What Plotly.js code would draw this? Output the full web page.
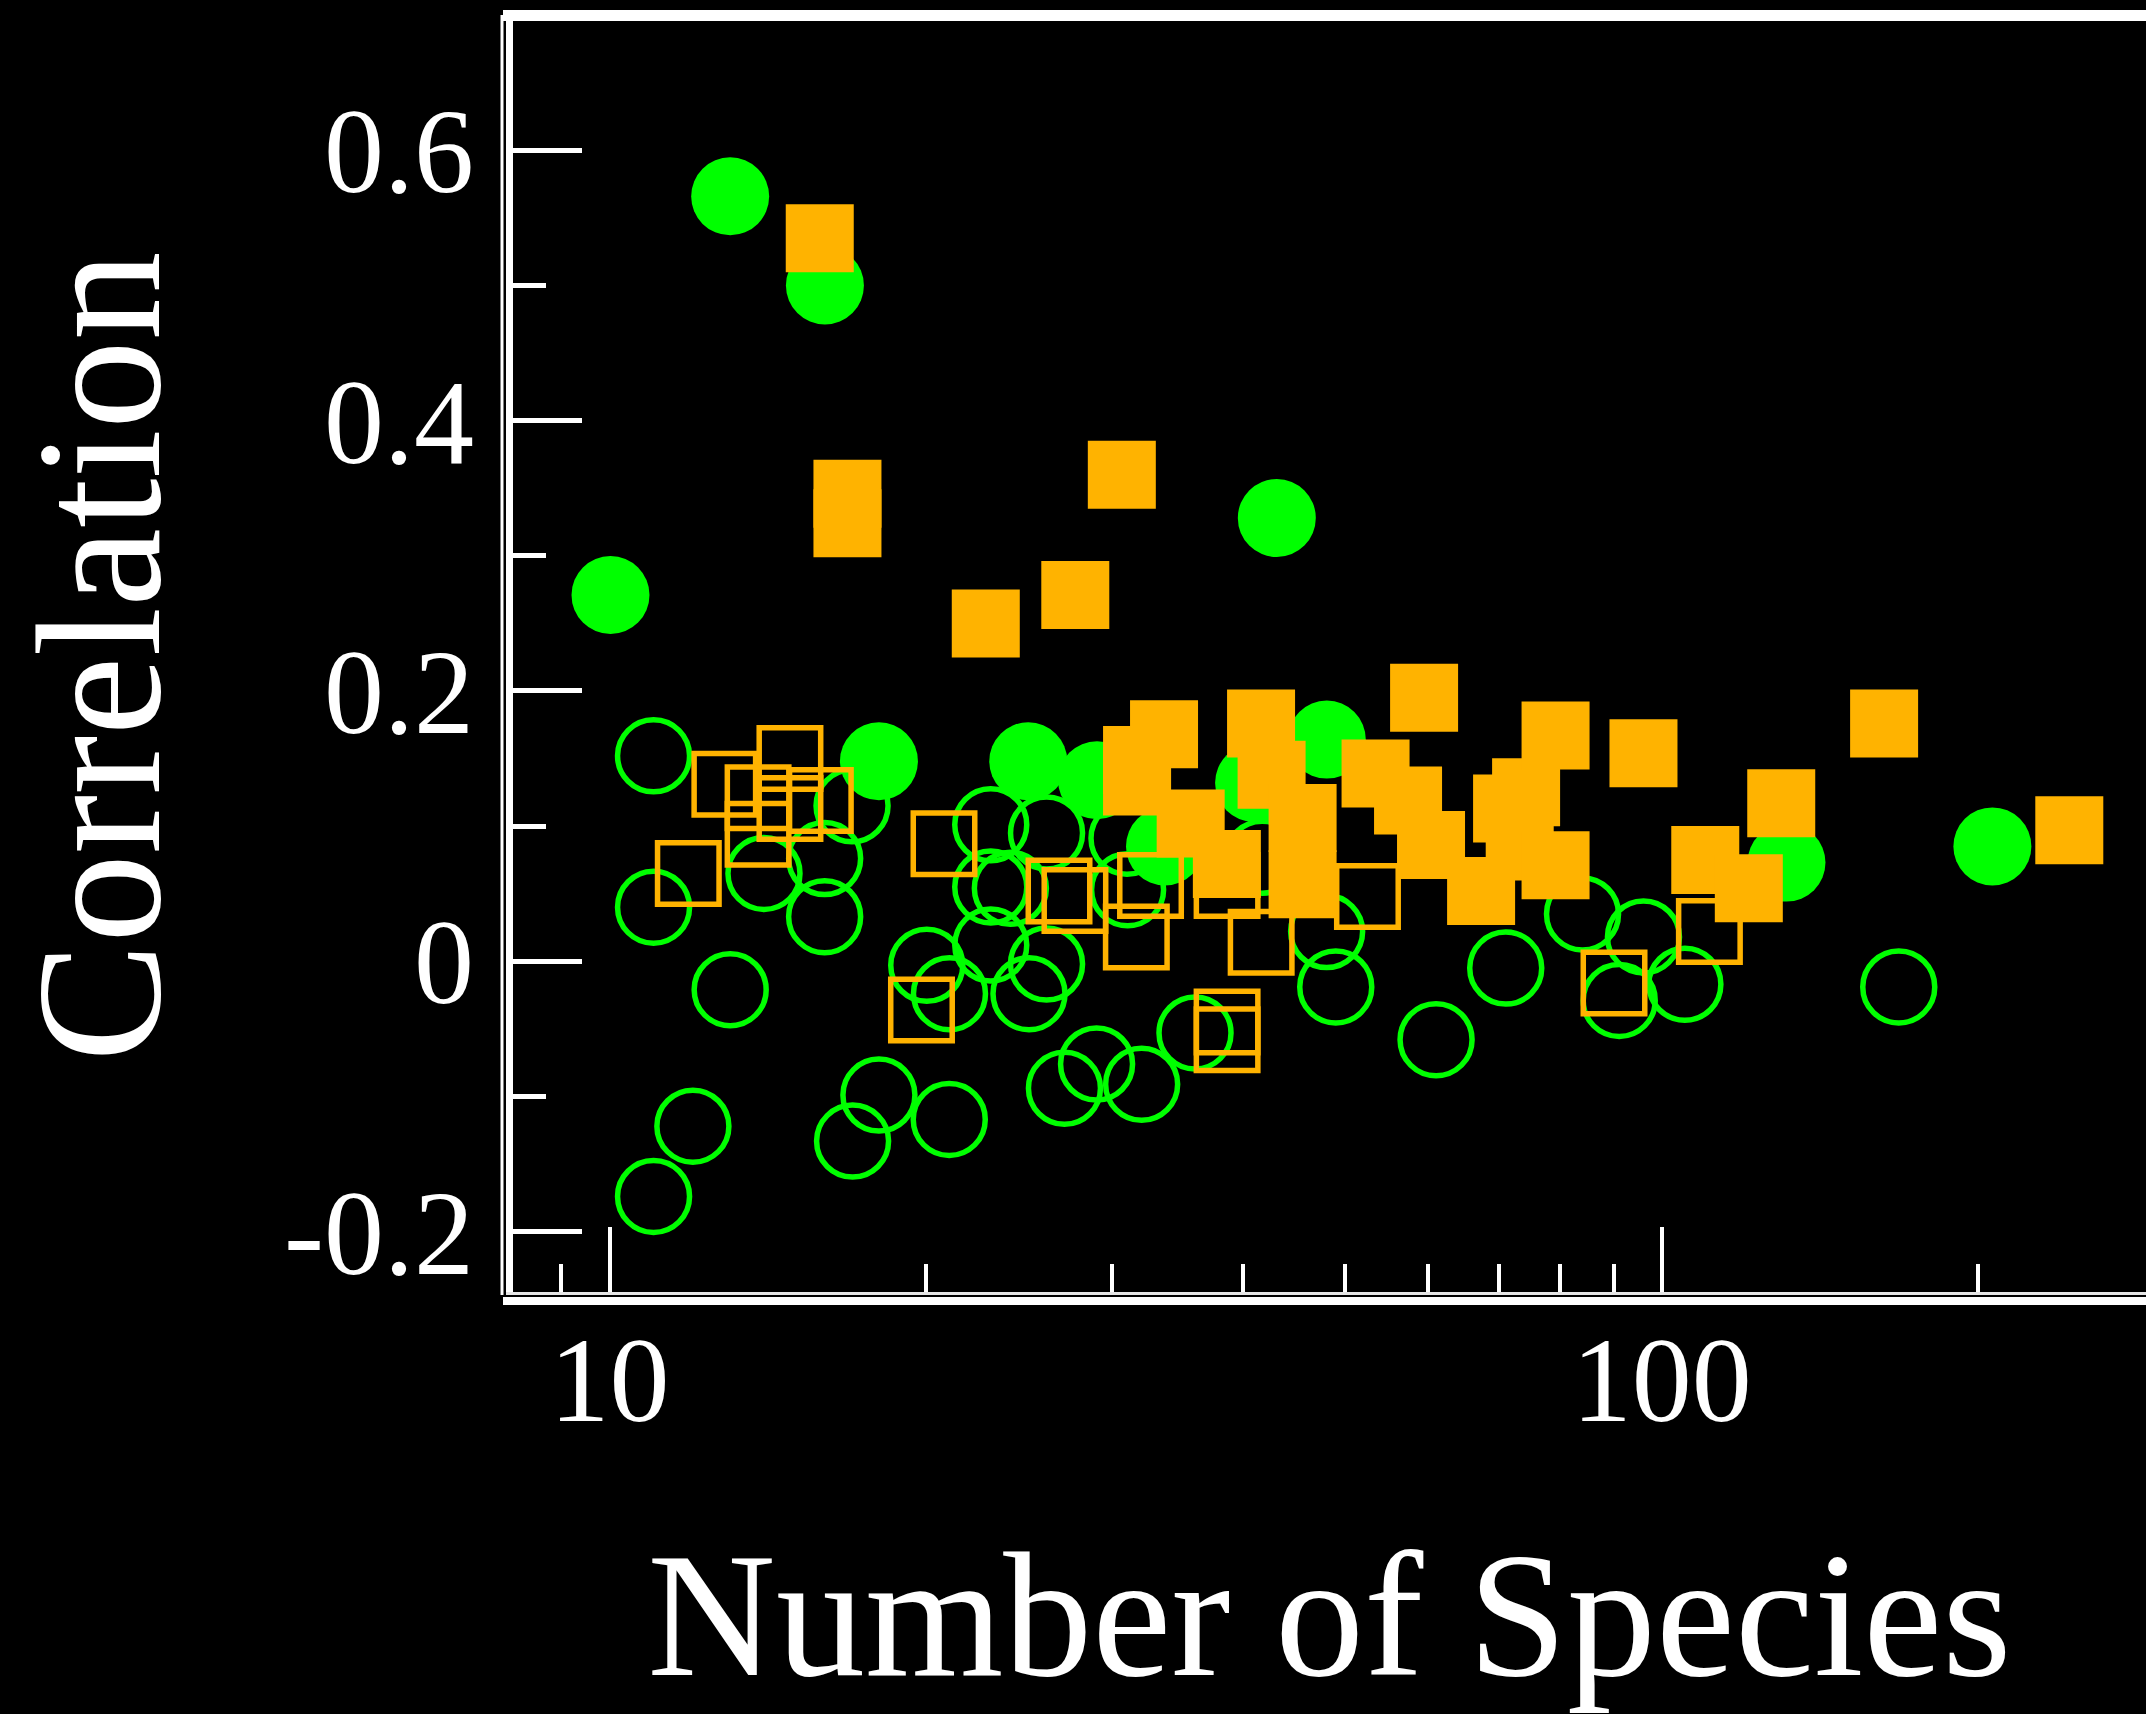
<!DOCTYPE html>
<html>
<head>
<meta charset="utf-8">
<script src="https://cdn.plot.ly/plotly-3.0.1.min.js"></script>
<style>
  html, body { margin: 0; padding: 0; background: #000; }
  #chart { width: 2146px; height: 1714px; }
</style>
</head>
<body>
<div id="chart"></div>
<script>
// ---- data ----
// filled green circles
const filledCircleX = [13.02, 16.02, 43.07, 10.02, 18.03, 25.0, 29.06, 48.05, 33.72, 40.98, 131.4, 206.2];
const filledCircleY = [0.566, 0.500, 0.328, 0.271, 0.148, 0.148, 0.134, 0.164, 0.085, 0.132, 0.073, 0.085];

// open green circles
const openCircleX = [11.01, 11.01, 13.02, 12.00, 14.02, 16.01, 16.01, 17.00, 18.03, 17.02, 21.03, 23.03,
                     26.02, 23.03, 24.04, 23.03, 20.02, 21.04, 25.04, 26.02, 29.03, 27.06, 31.03, 31.07,
                     32.04, 11.01, 36.01, 41.71, 48.03, 49.0, 61.03, 71.08, 84.09, 96.09, 91.12, 105.2, 168.0];
const openCircleY = [0.152, 0.040, -0.021, -0.122, 0.065, 0.076, 0.033, 0.115, -0.099, -0.133, -0.117,
                     0.101, 0.095, 0.055, 0.054, 0.012, -0.003, -0.024, -0.024, -0.002,
                     -0.076, -0.094, 0.091, 0.053, -0.091, -0.174, -0.053, 0.077, 0.022, -0.019,
                     -0.058, -0.005, 0.035, 0.018, -0.029, -0.017, -0.019];

// open orange squares
const openSquareX = [12.87, 14.84, 14.84, 13.84, 13.84, 15.86, 11.88, 20.79, 19.79, 26.74, 27.69,
                     31.67, 32.67, 38.63, 41.62, 52.52, 38.63, 38.63, 90.09, 111.0];
const openSquareY = [0.131, 0.150, 0.113, 0.121, 0.094, 0.119, 0.065, 0.087, -0.036, 0.052, 0.045,
                     0.018, 0.056, 0.056, 0.014, 0.048, -0.045, -0.058, -0.016, 0.022];

// filled orange squares
const filledSquareX = [15.84, 16.83, 16.83, 30.68, 27.71, 22.78, 41.61, 33.65, 31.72, 31.72, 35.67,
                       38.61, 42.58, 45.57, 45.57, 53.46, 57.40, 60.36, 67.35, 59.45,
                       71.29, 74.32, 79.27, 73.29, 79.27, 96.09, 110.0, 121.0, 129.9, 162.7, 244.0];
const filledSquareY = [0.535, 0.346, 0.324, 0.360, 0.271, 0.250, 0.176, 0.168, 0.149, 0.133, 0.102,
                       0.072, 0.138, 0.106, 0.057, 0.139, 0.119, 0.086, 0.052, 0.195,
                       0.113, 0.125, 0.167, 0.085, 0.071, 0.154, 0.075, 0.054, 0.117, 0.176, 0.097];

// axis ticks
const xTickVals = [10, 100];
const xTickText = ['10', '100'];
const xMinorVals = [9, 20, 30, 40, 50, 60, 70, 80, 90, 200];
const yTickVals = [-0.2, 0, 0.2, 0.4, 0.6];
const yTickText = ['-0.2', '0', '0.2', '0.4', '0.6'];
const yMinorVals = [-0.1, 0.1, 0.3, 0.5];

// ---- styles ----
const GREEN = '#00FF00';
const ORANGE = '#FFB300';
const FONT = 'Liberation Serif, Times New Roman, serif';

const traces = [
  { x: filledCircleX, y: filledCircleY, type: 'scatter', mode: 'markers', name: 'filled circles',
    marker: { symbol: 'circle', size: 78, color: GREEN, line: { width: 0 } } },
  { x: openCircleX, y: openCircleY, type: 'scatter', mode: 'markers', name: 'open circles',
    marker: { symbol: 'circle-open', size: 72, color: GREEN, line: { width: 5.5, color: GREEN } } },
  { x: openSquareX, y: openSquareY, type: 'scatter', mode: 'markers', name: 'open squares',
    marker: { symbol: 'square-open', size: 61.5, color: ORANGE, line: { width: 5.5, color: ORANGE } } },
  { x: filledSquareX, y: filledSquareY, type: 'scatter', mode: 'markers', name: 'filled squares',
    marker: { symbol: 'square', size: 68, color: ORANGE, line: { width: 0 } } }
];

const L = 513, T = 21, B = 1292, W = 2146, H = 1714;
const plotW = W - L, plotH = B - T;

const layout = {
  width: W, height: H,
  paper_bgcolor: '#000', plot_bgcolor: '#000',
  showlegend: false,
  margin: { l: L, r: 0, t: T, b: H - B, pad: 0 },
  font: { family: FONT, color: '#fff', size: 120 },
  xaxis: {
    type: 'log',
    range: [0.9082, 2.4603],
    showgrid: false, zeroline: false,
    showline: true, linecolor: '#e6e6e6', linewidth: 3,
    ticks: 'inside', ticklen: 65, tickwidth: 4, tickcolor: '#fff',
    tickmode: 'array', tickvals: xTickVals, ticktext: xTickText,
    tickfont: { family: FONT, size: 120, color: '#fff' },
    ticklabelstandoff: -18,
    minor: { tickmode: 'array', tickvals: xMinorVals, ticks: 'inside', ticklen: 28, tickwidth: 4, tickcolor: '#fff', showgrid: false },
    title: { text: 'Number of Species', font: { family: FONT, size: 178, color: '#fff' }, standoff: 131 }
  },
  yaxis: {
    range: [-0.2447, 0.6957],
    showgrid: false, zeroline: false,
    showline: true, linecolor: '#fff', linewidth: 7,
    ticks: 'inside', ticklen: 69, tickwidth: 5, tickcolor: '#fff',
    tickmode: 'array', tickvals: yTickVals, ticktext: yTickText,
    tickfont: { family: FONT, size: 120, color: '#fff' },
    ticklabelstandoff: 8,
    minor: { tickmode: 'array', tickvals: yMinorVals, ticks: 'inside', ticklen: 33, tickwidth: 5, tickcolor: '#fff', showgrid: false },
    title: { text: 'Correlation', font: { family: FONT, size: 178, color: '#fff' }, standoff: 113 }
  },
  shapes: [
    // thin outer left frame line
    { type: 'line', xref: 'paper', yref: 'paper', xsizemode: 'pixel', ysizemode: 'pixel',
      xanchor: 0, x0: -11, x1: -11, yanchor: 0, y0: -3, y1: plotH + 6,
      line: { color: '#fff', width: 3 } },
    // thick outer bottom frame line
    { type: 'line', xref: 'paper', yref: 'paper', xsizemode: 'pixel', ysizemode: 'pixel',
      xanchor: 0, x0: -10, x1: plotW + 5, yanchor: 0, y0: -9, y1: -9,
      line: { color: '#fff', width: 8 } },
    // thick top frame line
    { type: 'line', xref: 'paper', yref: 'paper', xsizemode: 'pixel', ysizemode: 'pixel',
      xanchor: 0, x0: -10, x1: plotW + 5, yanchor: 1, y0: 5.5, y1: 5.5,
      line: { color: '#fff', width: 11 } }
  ]
};

Plotly.newPlot('chart', traces, layout, { displayModeBar: false, staticPlot: true });
</script>
</body>
</html>
